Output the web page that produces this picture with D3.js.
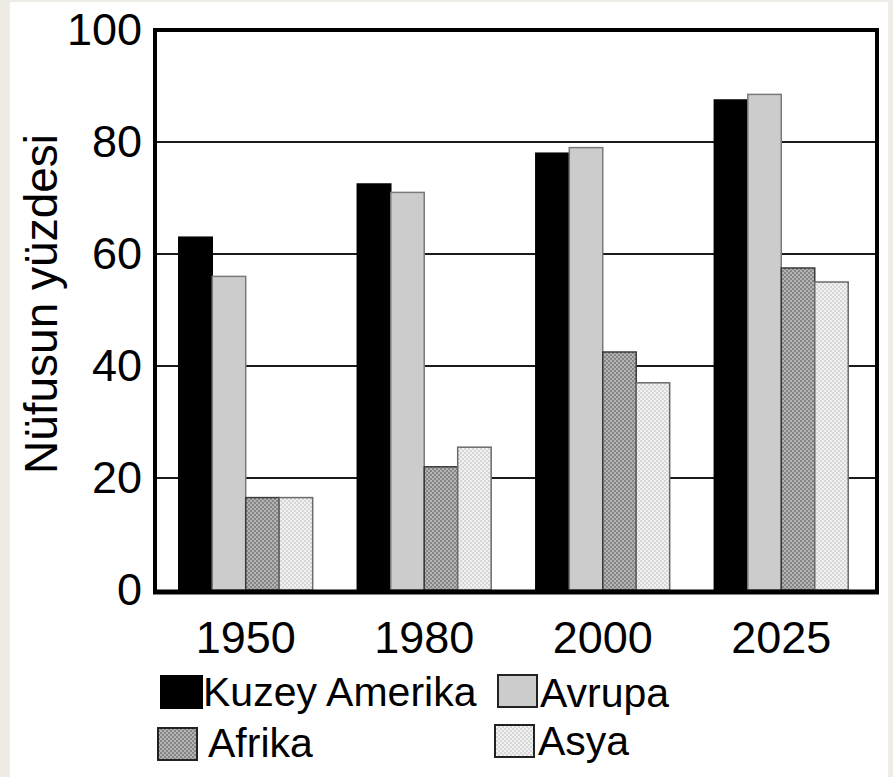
<!DOCTYPE html>
<html>
<head>
<meta charset="utf-8">
<script src="https://cdn.jsdelivr.net/npm/d3@7"></script>
<style>
  html, body { margin: 0; padding: 0; background: #efece6; }
  svg { display: block; }
  text { font-family: "Liberation Sans", Arial, sans-serif; fill: #000; }
</style>
</head>
<body>
<div id="chart-area"></div>
<script>
// veriler
var years = ["1950", "1980", "2000", "2025"];
var regions = ["Kuzey Amerika", "Avrupa", "Afrika", "Asya"];
var kuzeyAmerika = [63, 72.5, 78, 87.5];
var avrupa = [56, 71, 79, 88.5];
var afrika = [16.5, 22, 42.5, 57.5];
var asya = [16.5, 25.5, 37, 55];
var yTicks = [0, 20, 40, 60, 80, 100];

var seriesValues = [kuzeyAmerika, avrupa, afrika, asya];

var W = 893, H = 777;
var plot = { left: 155, right: 877, top: 30, bottom: 590 };

var svg = d3.select("#chart-area").append("svg")
    .attr("width", W)
    .attr("height", H);

// desenler (Afrika ve Asya)
var defs = svg.append("defs");
function dotPattern(id, base, dot) {
    var p = defs.append("pattern")
        .attr("id", id)
        .attr("patternUnits", "userSpaceOnUse")
        .attr("width", 4).attr("height", 4);
    p.append("rect").attr("width", 4).attr("height", 4).attr("fill", base);
    p.append("rect").attr("width", 2).attr("height", 2).attr("fill", dot);
    p.append("rect").attr("x", 2).attr("y", 2).attr("width", 2).attr("height", 2).attr("fill", dot);
}
dotPattern("pat-afrika", "#b4b4b4", "#868686");
dotPattern("pat-asya", "#f2f2f2", "#d6d6d6");

var fills = ["#000000", "#cccccc", "url(#pat-afrika)", "url(#pat-asya)"];
var strokes = ["#000000", "#7a7a7a", "#3a3a3a", "#6a6a6a"];

// beyaz panel
svg.append("rect")
    .attr("x", 10).attr("y", 2)
    .attr("width", 878).attr("height", H)
    .attr("fill", "#ffffff");

var x0 = d3.scaleBand()
    .domain(years)
    .range([152, 875])
    .paddingInner(0.25)
    .paddingOuter(0.15);

var x1 = d3.scaleBand()
    .domain(regions)
    .range([0, x0.bandwidth()])
    .padding(0);

var y = d3.scaleLinear()
    .domain([0, 100])
    .range([plot.bottom, plot.top]);

var g = svg.append("g");

// yatay çizgiler
g.selectAll(".grid")
    .data(yTicks.filter(d => d > 0 && d < 100))
    .enter().append("line")
    .attr("x1", plot.left).attr("x2", plot.right)
    .attr("y1", d => y(d)).attr("y2", d => y(d))
    .attr("stroke", "#1a1a1a")
    .attr("stroke-width", 2.2);

// çubuklar
var data = [];
years.forEach((yr, i) => {
    regions.forEach((r, j) => {
        data.push({ year: yr, region: r, idx: j, value: seriesValues[j][i] });
    });
});

g.selectAll(".bar")
    .data(data)
    .enter().append("rect")
    .attr("class", "bar")
    .attr("x", d => x0(d.year) + x1(d.region))
    .attr("y", d => y(d.value))
    .attr("width", x1.bandwidth())
    .attr("height", d => plot.bottom - y(d.value))
    .attr("fill", d => fills[d.idx])
    .attr("stroke", d => strokes[d.idx])
    .attr("stroke-width", 1.5);

// çerçeve
g.append("rect")
    .attr("x", plot.left).attr("y", plot.top)
    .attr("width", plot.right - plot.left)
    .attr("height", plot.bottom - plot.top + 2)
    .attr("fill", "none")
    .attr("stroke", "#000")
    .attr("stroke-width", 4);
g.append("line")
    .attr("x1", plot.left - 2).attr("x2", plot.right + 2)
    .attr("y1", plot.bottom + 2).attr("y2", plot.bottom + 2)
    .attr("stroke", "#000")
    .attr("stroke-width", 5);

// y ekseni
var yAxis = d3.axisLeft(y).tickValues(yTicks).tickSize(0).tickPadding(11);
var yAxisGroup = svg.append("g")
    .attr("transform", "translate(" + (plot.left - 2) + ",0)")
    .call(yAxis);
yAxisGroup.select(".domain").remove();
yAxisGroup.selectAll("text")
    .attr("font-size", "45px")
    .attr("font-family", "Liberation Sans, Arial, sans-serif")
    .attr("fill", "#000");

// x ekseni
var xAxis = d3.axisBottom(x0).tickSize(0).tickPadding(29);
var xAxisGroup = svg.append("g")
    .attr("transform", "translate(0," + (plot.bottom + 2) + ")")
    .call(xAxis);
xAxisGroup.select(".domain").remove();
xAxisGroup.selectAll("text")
    .attr("font-size", "45px")
    .attr("font-family", "Liberation Sans, Arial, sans-serif")
    .attr("fill", "#000");

// y başlığı
svg.append("text")
    .attr("transform", "translate(57,304) rotate(-90)")
    .attr("text-anchor", "middle")
    .attr("font-size", "46px")
    .text("Nüfusun yüzdesi");

// lejant
var legendPos = [
    { bx: 161, by: 676, tx: 203, ty: 706 },
    { bx: 498, by: 675, tx: 540, ty: 707 },
    { bx: 158, by: 728, tx: 208, ty: 757 },
    { bx: 495, by: 725, tx: 538, ty: 755 }
];
var legend = svg.selectAll(".legend")
    .data(regions)
    .enter().append("g")
    .attr("class", "legend");
legend.append("rect")
    .attr("x", (d, i) => legendPos[i].bx)
    .attr("y", (d, i) => legendPos[i].by)
    .attr("width", (d, i) => i === 0 ? 41 : 39)
    .attr("height", 32)
    .attr("fill", (d, i) => fills[i])
    .attr("stroke", (d, i) => i === 0 ? "#000" : "#222")
    .attr("stroke-width", 2);
legend.append("text")
    .attr("x", (d, i) => legendPos[i].tx)
    .attr("y", (d, i) => legendPos[i].ty)
    .attr("font-size", "41px")
    .text(d => d);
</script>
</body>
</html>
